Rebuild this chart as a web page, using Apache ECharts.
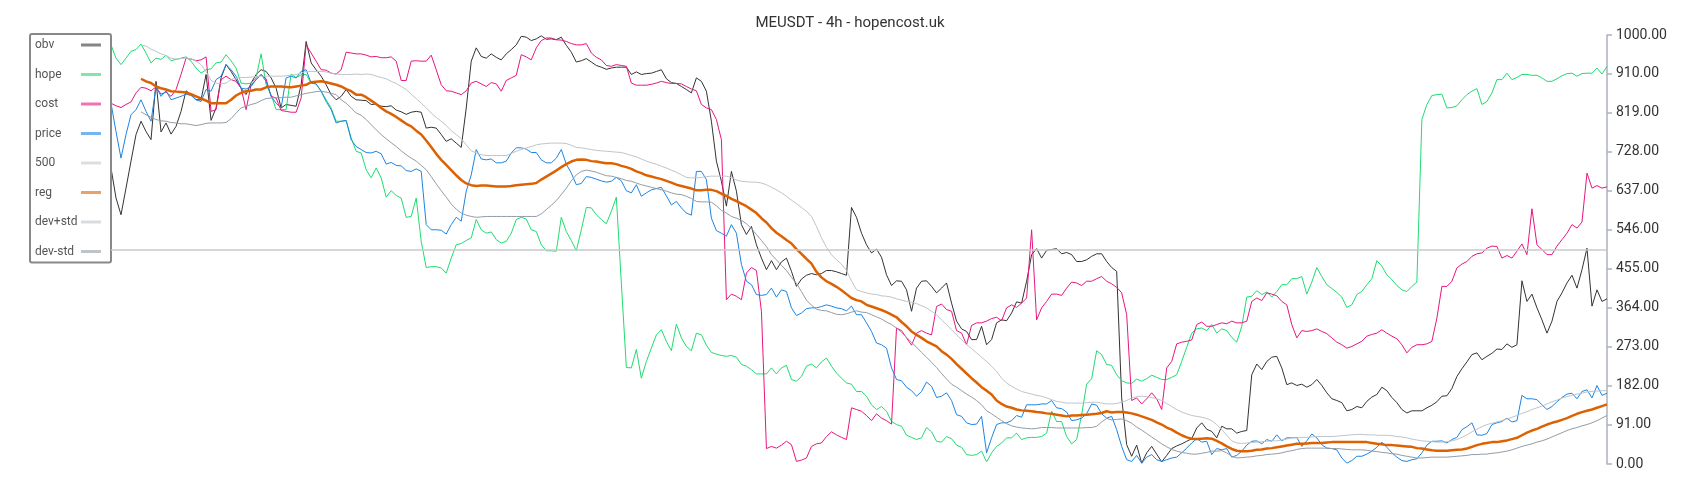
<!DOCTYPE html>
<html>
<head>
<meta charset="utf-8">
<title>MEUSDT - 4h - hopencost.uk</title>
<script src="https://cdn.jsdelivr.net/npm/echarts@6/dist/echarts.min.js"></script>
<style>
    html, body { margin: 0; padding: 0; background: #fff; }
    #chart { width: 1700px; height: 500px; }
</style>
</head>
<body>
<div id="chart"></div>
<script>
// values, 300 bars of 4h data
const obv = [
    690,620,581,643,706,768,799,775,756,892,774,795,769,787,822,870,861,849,849,908,801,830,900,931,915,896,876,861,888,908,919,915,900,876,830,838,836,834,884,985,935,919,904,884,861,849,857,873,857,849,
    848,847,838,839,834,833,835,825,821,815,820,822,820,783,785,783,768,752,758,748,738,830,939,970,950,946,956,948,942,956,966,977,997,995,987,991,998,990,991,989,995,976,960,937,940,945,937,929,925,920,
    923,925,925,925,908,914,908,910,911,915,919,898,889,887,880,873,865,900,892,869,799,706,659,601,682,636,558,535,554,511,480,453,474,453,471,480,449,414,431,440,444,441,444,451,451,448,444,440,598,575,
    538,511,492,501,482,441,416,427,426,406,356,410,426,427,414,399,410,422,375,333,315,309,290,290,321,278,290,329,336,334,352,378,375,426,488,502,480,498,500,502,490,493,488,472,472,476,484,490,490,472,
    458,449,154,45,18,44,2,26,41,23,5,20,36,42,47,53,59,84,96,81,76,61,88,82,82,72,76,78,208,233,220,239,249,251,224,185,189,183,186,179,185,197,183,166,152,148,143,124,127,134,
    131,146,156,162,179,171,155,143,127,119,124,124,124,131,137,145,158,159,176,204,222,238,255,259,243,251,258,268,267,280,272,278,427,379,396,364,336,305,333,379,399,422,440,410,453,503,368,406,379,385
];
const hope = [
    977,946,931,946,962,966,979,958,935,946,943,953,940,943,946,949,939,923,911,919,921,935,937,954,940,923,888,886,888,900,956,884,861,826,826,826,909,901,907,908,888,886,869,849,830,799,799,800,760,729,
    725,686,667,690,667,622,637,626,620,575,577,620,519,458,460,460,457,445,480,511,514,521,527,570,546,538,541,523,515,519,538,570,575,571,546,542,511,497,497,496,575,542,521,497,546,598,597,581,570,560,
    589,622,422,225,224,267,200,239,270,301,313,286,264,326,294,274,264,305,301,277,260,256,253,251,253,249,232,228,220,210,210,210,224,210,224,230,197,193,204,228,233,224,238,247,228,212,200,189,186,169,
    169,158,138,127,134,123,99,92,88,67,62,57,61,85,75,53,51,64,59,44,39,22,20,22,30,5,26,41,49,61,61,72,57,61,62,62,64,72,123,99,99,64,47,57,115,186,199,264,255,232,
    230,208,194,189,188,198,193,199,207,202,197,197,202,208,239,272,305,315,317,311,325,305,315,311,295,284,321,389,391,404,395,401,389,402,418,418,432,432,437,396,424,458,437,418,409,400,389,365,371,395,
    402,418,432,474,461,441,430,416,406,402,414,424,803,838,859,861,862,830,831,835,849,861,869,875,838,845,865,896,896,911,896,901,908,908,906,906,900,892,892,898,905,910,911,904,910,911,911,923,909,927
];
const cost = [
    841,835,831,838,844,865,878,876,870,879,862,867,857,873,908,946,944,940,942,949,822,826,896,904,896,892,876,826,884,896,908,898,857,853,824,822,820,820,853,977,958,939,919,918,911,909,919,960,958,956,
    956,953,949,950,947,947,949,939,894,894,939,940,939,939,953,919,884,870,869,865,861,870,888,892,886,880,889,886,869,894,900,906,954,949,942,970,987,993,993,989,988,985,980,977,977,980,958,948,942,929,
    927,931,929,927,888,883,883,883,885,888,892,889,887,887,886,880,874,870,838,830,826,803,756,383,396,391,383,445,458,451,356,36,41,37,44,53,45,6,9,14,41,47,49,64,75,68,62,57,131,127,
    123,113,101,117,107,101,93,317,311,294,277,305,311,305,301,367,373,360,356,311,305,278,323,329,329,333,339,342,334,364,371,365,375,387,546,336,364,379,396,396,393,410,424,422,416,426,426,432,437,426,
    420,412,399,348,148,154,140,152,166,152,127,224,239,280,284,286,289,325,331,321,321,325,329,327,333,329,329,333,379,387,381,399,396,392,379,371,325,294,311,309,311,315,309,304,294,284,278,270,274,280,
    286,298,302,305,313,305,298,292,278,259,272,278,278,280,286,340,414,414,426,457,466,472,484,490,492,503,508,507,480,486,480,496,513,488,595,511,500,488,488,508,523,538,558,550,564,678,643,649,643,646
];
const price = [
    841,775,713,768,814,826,849,822,799,880,857,870,849,853,857,862,859,849,845,873,869,896,904,931,919,904,876,874,880,896,908,892,857,841,830,900,904,900,915,919,888,886,869,845,826,795,799,801,756,740,
    733,726,725,729,723,699,703,696,695,684,682,688,682,558,546,546,545,536,558,575,566,636,674,733,711,709,711,702,702,706,725,737,737,734,726,726,709,702,702,713,733,699,678,651,654,670,668,664,660,657,
    659,668,660,637,632,651,624,632,639,642,645,625,604,612,597,585,580,682,682,663,573,544,538,531,558,538,465,426,418,395,393,395,410,389,406,402,364,346,352,362,364,364,367,371,368,364,362,357,368,348,
    348,329,309,282,278,270,224,197,194,179,171,158,169,191,181,155,158,166,148,115,111,96,92,93,111,26,61,92,96,96,101,113,109,138,138,138,140,140,148,131,129,121,101,103,107,117,140,137,117,107,
    111,80,41,10,6,20,2,16,22,10,6,10,14,16,26,37,49,59,51,53,22,36,33,36,16,20,30,44,53,54,47,57,53,68,54,61,61,62,41,54,70,61,45,37,36,33,14,2,8,18,
    18,23,30,39,51,39,26,16,8,6,10,12,26,44,53,53,54,49,57,62,80,87,96,68,67,71,92,96,99,107,98,101,160,152,152,150,138,127,134,145,155,163,165,152,169,173,154,183,160,165
];
const reg = [
    null,null,null,null,null,null,898,892,888,880,876,873,869,868,867,866,862,857,852,847,841,841,841,841,849,859,865,869,870,873,873,878,880,880,880,879,878,880,882,884,890,891,892,890,887,884,880,874,869,861,
    861,855,847,839,830,822,816,809,801,793,787,777,768,754,739,723,709,697,685,673,662,654,650,648,649,649,648,647,647,647,648,650,651,652,653,655,663,670,677,684,692,699,705,709,710,709,706,705,703,701,
    701,699,695,692,688,682,678,673,670,667,664,660,656,651,648,645,642,638,638,639,639,636,630,625,618,613,607,601,593,585,573,563,550,539,531,522,514,501,490,478,467,448,435,426,420,413,405,396,387,382,
    379,371,367,363,359,354,348,342,331,321,309,301,294,286,280,274,263,255,245,233,222,211,200,190,179,171,162,148,140,134,131,127,125,124,123,121,120,118,117,115,113,111,113,113,114,115,116,117,119,123,
    120,121,121,120,118,115,111,107,103,97,92,85,80,73,67,62,59,58,59,60,59,54,48,41,35,31,30,30,31,33,34,36,37,39,41,43,45,47,47,48,49,49,49,50,51,51,51,51,51,51,
    51,51,49,47,46,44,44,43,42,41,40,37,36,34,32,31,31,31,32,33,34,36,40,44,47,49,51,51,53,55,58,61,67,73,78,82,87,92,96,99,103,107,112,117,121,124,127,131,135,139
];
const devPlus = [
    null,null,null,null,null,null,977,974,967,962,956,952,946,944,945,946,945,939,931,915,894,888,886,888,896,900,901,901,902,903,904,904,904,904,904,905,906,908,911,915,915,915,915,914,911,909,908,908,908,909,
    908,909,908,904,901,898,892,887,880,873,862,852,841,830,818,808,799,789,777,768,758,744,730,725,721,719,719,719,719,719,724,729,733,737,740,744,746,747,748,748,748,747,743,738,737,735,733,731,730,729,
    728,727,726,723,719,716,711,706,702,699,694,690,685,680,674,668,667,667,668,670,671,671,671,671,667,662,659,658,657,657,655,651,645,639,632,624,615,607,598,589,577,554,527,505,488,476,466,451,427,406,
    402,399,396,395,392,391,389,385,382,379,377,374,369,364,356,348,336,325,313,301,290,278,269,259,249,239,228,216,200,189,181,175,169,166,163,160,158,154,150,146,144,142,142,142,142,143,144,144,142,140,
    140,141,144,148,154,157,158,157,155,152,148,141,134,127,121,117,113,111,109,106,101,92,80,67,54,49,48,49,50,51,52,53,54,54,56,58,61,61,62,62,63,64,64,64,64,65,66,67,68,69,
    69,68,68,67,67,67,66,64,63,61,58,56,54,53,52,51,51,52,54,57,62,68,75,81,87,92,95,98,101,105,109,113,118,122,127,131,135,140,145,149,154,157,160,163,165,168,169,170,171,171
];
const devMinus = [
    null,null,null,null,null,null,821,814,808,803,800,799,796,795,793,793,791,789,791,794,795,795,795,796,805,818,830,834,838,841,847,852,853,854,854,855,855,858,861,864,866,868,869,867,864,861,849,841,830,818,
    813,803,791,779,768,758,749,740,730,721,713,706,696,686,670,653,637,622,606,594,585,580,577,575,576,577,577,577,577,577,577,577,577,577,577,577,583,593,603,614,628,643,660,674,682,685,683,680,676,672,
    671,668,665,661,659,655,651,648,645,642,639,636,632,629,628,624,619,612,611,611,610,602,591,585,577,573,568,560,549,535,521,507,488,476,463,451,435,421,402,382,370,361,358,357,353,349,348,350,354,357,
    354,353,348,343,338,331,325,317,307,295,284,272,260,249,237,225,211,198,186,179,171,163,156,148,138,124,117,109,101,94,89,86,84,83,82,83,85,85,85,84,84,84,84,84,84,85,85,88,98,106,
    103,104,105,101,95,86,79,71,63,55,47,40,34,30,27,25,23,23,25,27,30,30,31,26,18,14,15,16,17,19,20,22,23,24,26,29,31,34,36,37,37,37,37,37,36,36,35,34,33,33,
    33,32,30,29,27,26,24,23,20,18,16,14,14,15,16,16,16,16,17,18,19,20,22,22,23,23,25,26,28,30,33,37,41,44,47,51,54,58,63,68,73,78,82,85,89,92,96,101,107,113
];
const level = 500;
const legendNames = ['obv', 'hope', 'cost', 'price', '500', 'reg', 'dev+std', 'dev-std'];
const categories = obv.map((_, i) => String(i));

const chart = echarts.init(document.getElementById('chart'));

function lineSeries(name, data, color, width) {
    return {
        name: name,
        type: 'line',
        data: data,
        symbol: 'none',
        color: color,
        lineStyle: { color: color, width: width },
        animation: false
    };
}

chart.setOption({
    backgroundColor: '#fff',
    textStyle: { fontFamily: 'Roboto' },
    title: {
        text: 'MEUSDT - 4h - hopencost.uk',
        left: 'center',
        top: 11,
        textStyle: { fontSize: 15, fontWeight: 'normal', color: '#333' }
    },
    legend: {
        orient: 'vertical',
        left: 30,
        top: 34,
        align: 'right',
        padding: [5, 10, 5, 5],
        itemGap: 17.5,
        itemWidth: 20,
        itemHeight: 3,
        icon: 'rect',
        backgroundColor: '#fff',
        borderColor: '#888',
        borderWidth: 2,
        borderRadius: 2,
        itemStyle: { opacity: 0.6 },
        formatter: name => '{n|' + name + '}',
        textStyle: {
            fontSize: 12,
            color: '#555',
            rich: { n: { width: 41, align: 'left', fontSize: 12, color: '#555' } }
        },
        data: legendNames
    },
    grid: { left: 111, right: 93, top: 35, bottom: 36 },
    xAxis: {
        type: 'category',
        data: categories,
        boundaryGap: false,
        show: false
    },
    yAxis: {
        type: 'value',
        position: 'right',
        min: 0,
        max: 1000,
        interval: 91,
        splitLine: { show: false },
        axisLine: { show: true, lineStyle: { color: '#aab2ba', width: 1.5 } },
        axisTick: { show: true, length: 5, lineStyle: { color: '#aab2ba', width: 1.5 } },
        axisLabel: {
            color: '#333',
            fontSize: 14,
            margin: 9,
            formatter: v => v.toFixed(2)
        }
    },
    series: [
        lineSeries('obv', obv, '#333333', 1),
        lineSeries('hope', hope, '#1fdc70', 1),
        lineSeries('cost', cost, '#e8167f', 1),
        lineSeries('price', price, '#1c84e2', 1),
        {
            name: '500',
            type: 'line',
            data: [],
            symbol: 'none',
            color: '#c8c8c8',
            lineStyle: { color: '#c8c8c8', width: 1.5 },
            animation: false,
            markLine: {
                silent: true,
                symbol: 'none',
                label: { show: false },
                lineStyle: { color: '#c8c8c8', width: 1.5, type: 'solid' },
                data: [{ yAxis: level }]
            }
        },
        lineSeries('reg', reg, '#dd6100', 2.5),
        lineSeries('dev+std', devPlus, '#bfc4ca', 1),
        lineSeries('dev-std', devMinus, '#939ca6', 1)
    ]
});
</script>
</body>
</html>
